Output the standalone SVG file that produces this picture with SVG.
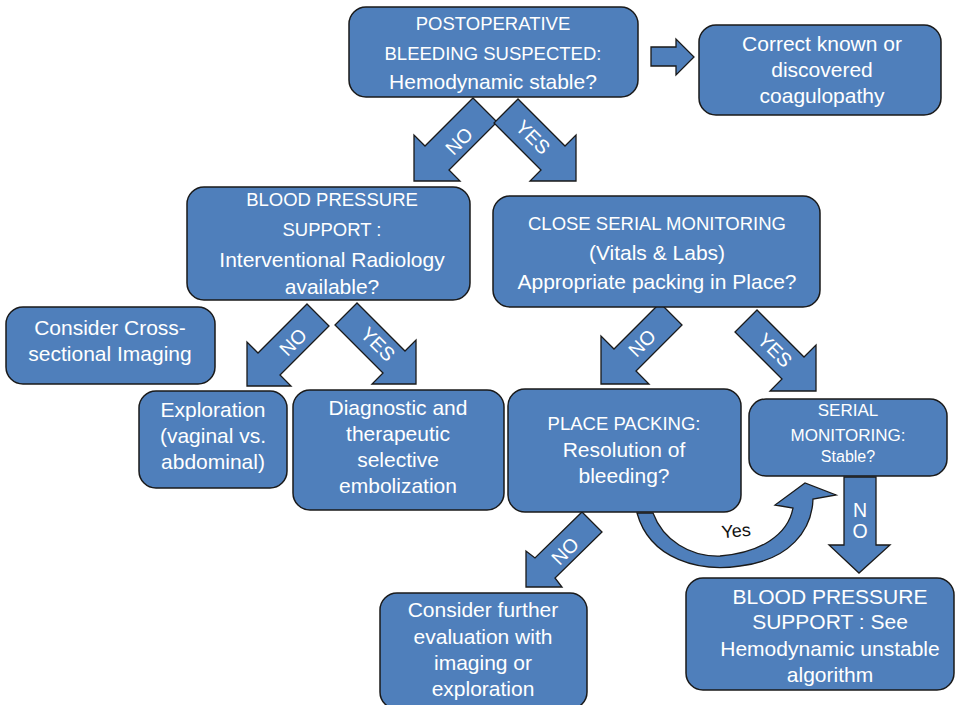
<svg xmlns="http://www.w3.org/2000/svg" width="962" height="705" viewBox="0 0 962 705">
<style>
.box{fill:#4f7fbb;stroke:#1a1a1a;stroke-width:1.5}
.arr{fill:#4f7fbb;stroke:#1a1a1a;stroke-width:1.3;stroke-linejoin:miter}
text{font-family:"Liberation Sans",Arial,sans-serif;fill:#ffffff;text-anchor:middle}
.b{font-size:21px}
.s{font-size:18.5px}
.lbl{font-size:19.5px}
.dark{fill:#111111;font-size:18px}
</style>
<rect width="962" height="705" fill="#ffffff"/>
<g id="connectors">
<polygon class="arr" points="651,47 676,47 676,39 694,57 676,75 676,66 651,66"/>
<polygon class="arr" points="473,98 497,122 449,170 460,181 414,181 414,135 425,146"/>
<polygon class="arr" points="518,99 494,123 541,170 530,181 576,181 576,135 565,146"/>
<polygon class="arr" points="307,304 329,326 280,375 291,386 247,386 247,342 258,353"/>
<polygon class="arr" points="357,303 335,325 383,373 372,384 416,384 416,340 405,351"/>
<polygon class="arr" points="660,303 682,325 636,371 649,384 601,384 601,336 614,349"/>
<polygon class="arr" points="757,310 735,332 782,379 770,391 816,391 816,345 804,357"/>
<polygon class="arr" points="582,512 602,532 555,578 562,587 526,587 526,551 535,558"/>
<polygon class="arr" points="844,477 876,477 876,545 890,545 859,573 829,545 844,545"/>
<path class="arr" d="M637,513 C650,560 700,572 740,566 C790,560 812,530 813,499 L836,495 L805,483 L775,505 L793,508 C788,535 760,553 720,556 C690,557 663,540 653,513 Z"/>
<text class="lbl" transform="translate(459,141) rotate(-45)" dy="7">NO</text>
<text class="lbl" transform="translate(533,137) rotate(45)" dy="7">YES</text>
<text class="lbl" transform="translate(293,342) rotate(-45)" dy="7">NO</text>
<text class="lbl" transform="translate(378,344) rotate(45)" dy="7">YES</text>
<text class="lbl" transform="translate(642,343) rotate(-45)" dy="7">NO</text>
<text class="lbl" transform="translate(775,350) rotate(45)" dy="7">YES</text>
<text class="lbl" transform="translate(565,551) rotate(-45)" dy="7">NO</text>
<text class="lbl" x="860" y="517">N</text>
<text class="lbl" x="860" y="538">O</text>
<text class="dark" transform="translate(736,531) rotate(-5)" dy="6">Yes</text>
</g>
<g id="n1">
<rect class="box" x="349" y="7" width="289" height="90" rx="17"/>
<text class="s" x="493" y="30">POSTOPERATIVE</text>
<text class="s" x="493" y="60">BLEEDING SUSPECTED:</text>
<text class="b" x="493" y="89">Hemodynamic stable?</text>
</g>
<g id="n2">
<rect class="box" x="699" y="25" width="242" height="90" rx="17"/>
<text class="b" x="822" y="51">Correct known or</text>
<text class="b" x="822" y="77">discovered</text>
<text class="b" x="822" y="103">coagulopathy</text>
</g>
<g id="n3">
<rect class="box" x="187" y="187" width="283" height="113" rx="17"/>
<text class="s" x="332" y="206">BLOOD PRESSURE</text>
<text class="s" x="332" y="236">SUPPORT :</text>
<text class="b" x="332" y="267">Interventional Radiology</text>
<text class="b" x="332" y="294">available?</text>
</g>
<g id="n4">
<rect class="box" x="493" y="196" width="327" height="111" rx="17"/>
<text class="s" x="657" y="230">CLOSE SERIAL MONITORING</text>
<text class="b" x="657" y="260">(Vitals &amp; Labs)</text>
<text class="b" x="657" y="289">Appropriate packing in Place?</text>
</g>
<g id="n5">
<rect class="box" x="6" y="307" width="209" height="77" rx="17"/>
<text class="b" x="110" y="335">Consider Cross-</text>
<text class="b" x="110" y="361">sectional Imaging</text>
</g>
<g id="n6">
<rect class="box" x="139" y="391" width="148" height="97" rx="17"/>
<text class="b" x="213" y="417">Exploration</text>
<text class="b" x="213" y="443">(vaginal vs.</text>
<text class="b" x="213" y="469">abdominal)</text>
</g>
<g id="n7">
<rect class="box" x="293" y="390" width="211" height="120" rx="17"/>
<text class="b" x="398" y="415">Diagnostic and</text>
<text class="b" x="398" y="441">therapeutic</text>
<text class="b" x="398" y="467">selective</text>
<text class="b" x="398" y="493">embolization</text>
</g>
<g id="n8">
<rect class="box" x="508" y="389" width="233" height="123" rx="17"/>
<text class="s" x="624" y="430">PLACE PACKING:</text>
<text class="b" x="624" y="457">Resolution of</text>
<text class="b" x="624" y="483">bleeding?</text>
</g>
<g id="n9">
<rect class="box" x="749" y="399" width="198" height="77" rx="17"/>
<text style="font-size:17px" x="848" y="416">SERIAL</text>
<text style="font-size:17px" x="848" y="441">MONITORING:</text>
<text style="font-size:16px" x="848" y="462">Stable?</text>
</g>
<g id="n10">
<rect class="box" x="380" y="593" width="207" height="116" rx="17"/>
<text class="b" x="483" y="617">Consider further</text>
<text class="b" x="483" y="644">evaluation with</text>
<text class="b" x="483" y="670">imaging or</text>
<text class="b" x="483" y="696">exploration</text>
</g>
<g id="n11">
<rect class="box" x="686" y="578" width="268" height="112" rx="17"/>
<text class="b" x="830" y="604">BLOOD PRESSURE</text>
<text class="b" x="830" y="629">SUPPORT : See</text>
<text class="b" x="830" y="656">Hemodynamic unstable</text>
<text class="b" x="830" y="682">algorithm</text>
</g>
</svg>
